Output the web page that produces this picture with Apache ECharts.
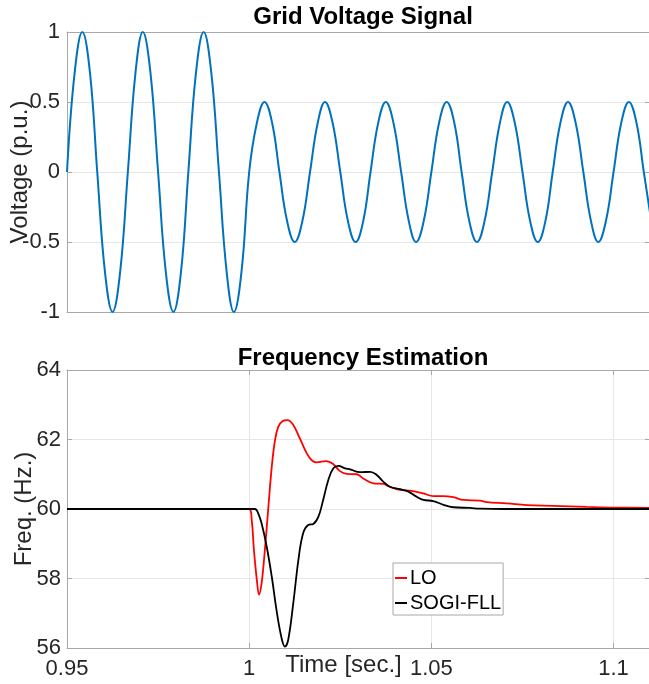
<!DOCTYPE html>
<html>
<head>
<meta charset="utf-8">
<script src="https://cdn.jsdelivr.net/npm/echarts@6/dist/echarts.min.js"></script>
<style>
  html, body { margin: 0; padding: 0; background: #fff; }
  #chart { width: 649px; height: 684px; }
</style>
</head>
<body>
<div id="chart"></div>
<script>
// 电网电压信号（读图取点：每周期 8 点）
const voltT = [
  0.95, 0.9521, 0.9542, 0.9563, 0.9583, 0.9604, 0.9625, 0.9646,
  0.9667, 0.9688, 0.9708, 0.9729, 0.975, 0.9771, 0.9792, 0.9813,
  0.9833, 0.9854, 0.9875, 0.9896, 0.9917, 0.9938, 0.9958, 0.9979,
  1.0, 1.0021, 1.0042, 1.0063, 1.0083, 1.0104, 1.0125, 1.0146,
  1.0167, 1.0188, 1.0208, 1.0229, 1.025, 1.0271, 1.0292, 1.0313,
  1.0333, 1.0354, 1.0375, 1.0396, 1.0417, 1.0438, 1.0458, 1.0479,
  1.05, 1.0521, 1.0542, 1.0563, 1.0583, 1.0604, 1.0625, 1.0646,
  1.0667, 1.0688, 1.0708, 1.0729, 1.075, 1.0771, 1.0792, 1.0813,
  1.0833, 1.0854, 1.0875, 1.0896, 1.0917, 1.0938, 1.0958, 1.0979,
  1.1, 1.1021, 1.1042, 1.1063, 1.1083, 1.11
];
const voltV = [
  0, 0.71, 1, 0.71, 0, -0.71, -1, -0.71,
  0, 0.71, 1, 0.71, 0, -0.71, -1, -0.71,
  0, 0.71, 1, 0.71, 0, -0.71, -1, -0.71,
  0, 0.35, 0.5, 0.35, 0, -0.35, -0.5, -0.35,
  0, 0.35, 0.5, 0.35, 0, -0.35, -0.5, -0.35,
  0, 0.35, 0.5, 0.35, 0, -0.35, -0.5, -0.35,
  0, 0.35, 0.5, 0.35, 0, -0.35, -0.5, -0.35,
  0, 0.35, 0.5, 0.35, 0, -0.35, -0.5, -0.35,
  0, 0.35, 0.5, 0.35, 0, -0.35, -0.5, -0.35,
  0, 0.35, 0.5, 0.35, 0, -0.29
];

// 频率估计 - LO
const loT = [
  0.95, 0.99, 1.0, 1.0007, 1.0013, 1.0021, 1.0027, 1.0034, 1.0043, 1.0052,
  1.0062, 1.0071, 1.008, 1.0092, 1.0105, 1.0121, 1.0139, 1.0158, 1.0171, 1.0185,
  1.0211, 1.0231, 1.0249, 1.0268, 1.0295, 1.0313, 1.0341, 1.0368, 1.0386, 1.0414,
  1.0441, 1.0478, 1.0505, 1.0532, 1.056, 1.0588, 1.0633, 1.0652, 1.0707, 1.0762,
  1.0835, 1.0926, 1.1, 1.11
];
const loF = [
  60, 60, 60, 59.68, 58.82, 57.96, 57.54, 57.86, 58.82, 59.97,
  61.22, 61.99, 62.37, 62.53, 62.56, 62.42, 62.03, 61.6, 61.41, 61.34,
  61.38, 61.29, 61.09, 61.01, 61.0, 60.88, 60.74, 60.72, 60.64, 60.55,
  60.53, 60.45, 60.37, 60.37, 60.34, 60.26, 60.24, 60.2, 60.16, 60.11,
  60.09, 60.06, 60.04, 60.03
];

// 频率估计 - SOGI-FLL
const sogiT = [
  0.95, 0.99, 1.0, 1.0016, 1.0025, 1.0034, 1.0048, 1.0062, 1.0075, 1.0089,
  1.0098, 1.0107, 1.0121, 1.0135, 1.0148, 1.0162, 1.0176, 1.019, 1.0203, 1.0217,
  1.0231, 1.0245, 1.0263, 1.0277, 1.0304, 1.0332, 1.035, 1.0368, 1.0386, 1.0414,
  1.0437, 1.046, 1.0478, 1.0505, 1.0533, 1.056, 1.0606, 1.0633, 1.07, 1.11
];
const sogiF = [
  60, 60, 60, 60, 59.87, 59.59, 58.92, 58.05, 57.09, 56.28,
  56.04, 56.23, 57.29, 58.53, 59.3, 59.54, 59.57, 59.78, 60.26, 60.83,
  61.17, 61.24, 61.17, 61.14, 61.06, 61.07, 60.98, 60.79, 60.64, 60.57,
  60.5, 60.35, 60.26, 60.23, 60.12, 60.05, 60.03, 60.01, 60, 60
];

const voltTicks = [-1, -0.5, 0, 0.5, 1];
const freqTicks = [56, 58, 60, 62, 64];
const timeTicks = [0.95, 1, 1.05, 1.1];

const pair = (xs, ys) => xs.map((x, i) => [x, ys[i]]);

// 统一样式
const fontFamily = '"Liberation Sans", Arial, Helvetica, sans-serif';
const labelColor = '#262626';
const axisColor = '#a8a8a8';
const gridColor = '#e6e6e6';

const chart = echarts.init(document.getElementById('chart'));

const baseX = (gridIndex, position, extra) => Object.assign({
  type: 'value',
  gridIndex: gridIndex,
  position: position,
  min: 0.95,
  max: 1.11,
  interval: 0.05,
  axisLine: { show: true, onZero: false, lineStyle: { color: axisColor, width: 1 } },
  axisTick: { show: false },
  axisLabel: { show: false },
  splitLine: { show: false }
}, extra || {});

const baseY = (gridIndex, position, min, max, interval, extra) => Object.assign({
  type: 'value',
  gridIndex: gridIndex,
  position: position,
  min: min,
  max: max,
  interval: interval,
  axisLine: { show: true, onZero: false, lineStyle: { color: axisColor, width: 1 } },
  axisTick: { show: true, inside: true, length: 5, lineStyle: { color: axisColor } },
  axisLabel: { show: false },
  splitLine: { show: false }
}, extra || {});

const option = {
  backgroundColor: '#fff',
  animation: false,
  title: [
    {
      text: 'Grid Voltage Signal',
      left: 358, top: 0, textAlign: 'center',
      textStyle: { fontSize: 24, fontWeight: 'bold', color: '#000', fontFamily: fontFamily }
    },
    {
      text: 'Frequency Estimation',
      left: 358, top: 341, textAlign: 'center',
      textStyle: { fontSize: 24, fontWeight: 'bold', color: '#000', fontFamily: fontFamily }
    }
  ],
  legend: {
    orient: 'vertical',
    left: 393,
    top: 563,
    data: ['LO', 'SOGI-FLL'],
    icon: 'rect',
    itemWidth: 12,
    itemHeight: 2,
    itemGap: 5,
    padding: [5, 2, 2, 2],
    borderColor: '#a8a8a8',
    borderWidth: 1,
    borderRadius: 0,
    backgroundColor: '#fff',
    selectedMode: false,
    textStyle: { fontSize: 20, color: '#000', fontFamily: fontFamily, padding: [0, 0, 0, -2] }
  },
  grid: [
    { left: 67, top: 32, width: 583, height: 280, outerBoundsMode: 'none', containLabel: false },
    { left: 67, top: 370, width: 583, height: 278, outerBoundsMode: 'none', containLabel: false }
  ],
  xAxis: [
    baseX(0, 'bottom'),
    baseX(0, 'top'),
    baseX(1, 'bottom', {
      axisTick: { show: true, inside: true, length: 5, lineStyle: { color: axisColor } },
      axisLabel: {
        show: true, margin: 10, fontSize: 22, color: labelColor, fontFamily: fontFamily,
        showMaxLabel: false,
        formatter: v => (timeTicks.some(t => Math.abs(t - v) < 1e-6) ? String(+v.toFixed(2)) : '')
      },
      splitLine: { show: true, lineStyle: { color: gridColor, width: 1 } },
      name: 'Time [sec.]',
      nameLocation: 'middle',
      nameGap: 5,
      nameMoveOverlap: false,
      nameTextStyle: { fontSize: 24, color: labelColor, fontFamily: fontFamily, padding: [0, 30, 0, 0] }
    }),
    baseX(1, 'top', {
      axisTick: { show: true, inside: true, length: 5, lineStyle: { color: axisColor } }
    })
  ],
  yAxis: [
    baseY(0, 'left', -1, 1, 0.5, {
      axisLabel: {
        show: true, margin: 7, fontSize: 22, color: labelColor, fontFamily: fontFamily,
        formatter: v => String(v)
      },
      splitLine: { show: true, lineStyle: { color: gridColor, width: 1 } },
      name: 'Voltage (p.u.)',
      nameLocation: 'middle',
      nameGap: 35,
      nameMoveOverlap: false,
      nameTextStyle: { fontSize: 24, color: labelColor, fontFamily: fontFamily }
    }),
    baseY(0, 'right', -1, 1, 0.5),
    baseY(1, 'left', 56, 64, 2, {
      axisLabel: {
        show: true, margin: 6, fontSize: 22, color: labelColor, fontFamily: fontFamily
      },
      splitLine: { show: true, lineStyle: { color: gridColor, width: 1 } },
      name: 'Freq. (Hz.)',
      nameLocation: 'middle',
      nameGap: 31,
      nameMoveOverlap: false,
      nameTextStyle: { fontSize: 24, color: labelColor, fontFamily: fontFamily }
    }),
    baseY(1, 'right', 56, 64, 2)
  ],
  series: [
    {
      name: 'Voltage',
      type: 'line',
      xAxisIndex: 0,
      yAxisIndex: 0,
      data: pair(voltT, voltV),
      smooth: 0.42,
      symbol: 'none',
      lineStyle: { color: '#0072BD', width: 2 },
      z: 3
    },
    {
      name: 'LO',
      type: 'line',
      xAxisIndex: 2,
      yAxisIndex: 2,
      data: pair(loT, loF),
      smooth: 0.4,
      symbol: 'none',
      color: '#ff0000',
      lineStyle: { color: '#ff0000', width: 1.8 },
      z: 3
    },
    {
      name: 'SOGI-FLL',
      type: 'line',
      xAxisIndex: 2,
      yAxisIndex: 2,
      data: pair(sogiT, sogiF),
      smooth: 0.4,
      symbol: 'none',
      color: '#000000',
      lineStyle: { color: '#000000', width: 1.8 },
      z: 4
    }
  ]
};

chart.setOption(option);
</script>
</body>
</html>
